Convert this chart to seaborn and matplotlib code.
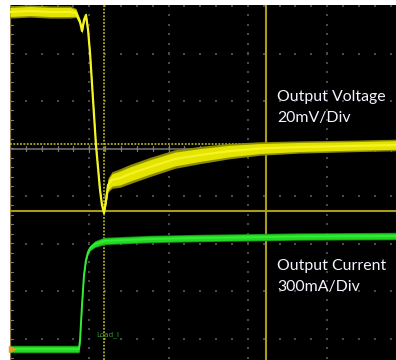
import numpy as np
import pandas as pd
import matplotlib
matplotlib.use("Agg")
import matplotlib.pyplot as plt
import seaborn as sns

# Screen coordinates are in scope divisions: x = time div from the left edge,
# y = vertical div from the centre graticule line.
volt_t = [0.000, 0.252, 0.504, 0.757, 0.832, 0.883, 0.908, 0.933, 0.958, 0.984,
          1.009, 1.047, 1.084, 1.135, 1.160, 1.185, 1.211, 1.236, 1.286, 1.387,
          1.513, 1.765, 2.081, 2.396, 2.774, 3.153, 3.657, 4.288, 4.868]
volt_y = [2.874, 2.895, 2.874, 2.874, 2.853, 2.663, 2.474, 2.705, 2.811, 2.495,
          2.011, 1.021, 0.074, -0.874, -1.189, -1.358, -1.084, -0.768, -0.663, -0.621,
          -0.537, -0.389, -0.221, -0.137, -0.053, 0.000, 0.032, 0.053, 0.074]
volt_spread = [0.095, 0.095, 0.095, 0.095, 0.070, 0.045, 0.040, 0.040, 0.040, 0.030,
               0.030, 0.030, 0.030, 0.030, 0.030, 0.040, 0.070, 0.110, 0.130, 0.145,
               0.150, 0.150, 0.145, 0.135, 0.120, 0.105, 0.095, 0.090, 0.090]

curr_t = [0.000, 0.870, 0.883, 0.908, 0.933, 0.958, 0.984, 1.009, 1.072, 1.185,
          1.765, 2.396, 3.657, 4.868]
curr_y = [-4.221, -4.221, -4.032, -3.295, -2.663, -2.347, -2.179, -2.095, -2.011, -1.947,
          -1.905, -1.884, -1.853, -1.842]
curr_spread = [0.060, 0.060, 0.030, 0.030, 0.030, 0.035, 0.040, 0.045, 0.055, 0.060,
               0.060, 0.060, 0.060, 0.060]

labels = {
    "volt": ("Output Voltage", "20mV/Div"),
    "curr": ("Output Current", "300mA/Div"),
}
channel_tag = "Load_I"

# cursor / trigger positions (divisions)
trig_x, trig_y = 1.185, 0.095
cursor_x, cursor_y = 3.222, -1.316

volt = pd.DataFrame({"t": volt_t, "y": volt_y, "s": volt_spread})
curr = pd.DataFrame({"t": curr_t, "y": curr_y, "s": curr_spread})

sns.set_style("dark", {"axes.facecolor": "black", "figure.facecolor": "white"})

fig = plt.figure(figsize=(3.96, 3.60), dpi=100)
ax = fig.add_axes([10 / 396, 0.0, 386 / 396, 355 / 360])
ax.set_facecolor("black")
XMAX = 386 / 79.3
YMIN, YMAX = -211.5 / 47.5, 143.5 / 47.5
ax.set_xlim(0, XMAX)
ax.set_ylim(YMIN, YMAX)

# graticule dots
dot_c = "#4a4a4a"
for gx in np.arange(0, 5):
    ys = np.arange(-4.4, 3.01, 0.2)
    ax.scatter(np.full_like(ys, gx), ys, s=1.0, color=dot_c, marker="s", linewidths=0, zorder=1)
for gy in np.arange(-4, 4):
    xs = np.arange(0, XMAX, 0.2)
    ax.scatter(xs, np.full_like(xs, gy), s=1.0, color=dot_c, marker="s", linewidths=0, zorder=1)

# centre horizontal axis with minor ticks
ax.axhline(0, color="#6e6e6e", lw=1.2, zorder=2)
for tx in np.arange(0.2, XMAX, 0.2):
    major = abs(tx - round(tx)) < 1e-6
    h = 0.07 if major else 0.045
    ax.plot([tx, tx], [-h, h], color="#7a7a7a", lw=0.9, zorder=2)

# left edge with ticks
ax.axvline(0.004, color="#8c7650", lw=1.6, zorder=3)
for ty in np.arange(-4.4, 3.01, 0.2):
    ax.plot([0, 0.04], [ty, ty], color="#7a7a7a", lw=0.8, zorder=2)

# trigger cursors (dotted) and measurement cursors (solid)
ax.axhline(trig_y, color="#d0c828", lw=1.1, ls=(0, (1.2, 1.0)), zorder=3)
ax.axvline(trig_x, color="#d0c828", lw=1.1, ls=(0, (1.2, 1.0)), zorder=3)
ax.axvline(cursor_x, color="#a89c18", lw=1.5, zorder=3)
ax.axhline(cursor_y, color="#a89c18", lw=1.5, zorder=3)

# voltage trace: dim persistence fringe, bright core band, centre line
ax.fill_between(volt["t"], volt["y"] - volt["s"] * 1.35, volt["y"] + volt["s"] * 1.35,
                color="#8c8c00", linewidth=0, zorder=4)
ax.fill_between(volt["t"], volt["y"] - volt["s"], volt["y"] + volt["s"],
                color="#e4e400", linewidth=0, zorder=4)
sns.lineplot(data=volt, x="t", y="y", ax=ax, color="#f4f424", lw=1.6,
             zorder=5, sort=False)

# current trace
ax.fill_between(curr["t"], curr["y"] - curr["s"] * 1.3, curr["y"] + curr["s"] * 1.3,
                color="#148c14", linewidth=0, zorder=4)
ax.fill_between(curr["t"], curr["y"] - curr["s"], curr["y"] + curr["s"],
                color="#22d822", linewidth=0, zorder=4)
sns.lineplot(data=curr, x="t", y="y", ax=ax, color="#34ec34", lw=1.4,
             zorder=5, sort=False)

# channel marker
ax.plot([0.02], [curr_y[0]], marker=">", ms=5, color="#e0a020", zorder=6, clip_on=False)

txt = dict(color="#f2f4ff", fontsize=11.4, family=["Lato", "DejaVu Sans"],
           ha="left", va="center", zorder=7)
ax.text(3.367, 1.084, labels["volt"][0], **txt)
ax.text(3.367, 0.642, labels["volt"][1], **txt)
ax.text(3.367, -2.474, labels["curr"][0], **txt)
ax.text(3.367, -2.916, labels["curr"][1], **txt)
ax.text(1.084, -3.926, channel_tag, color="#2ea02e", fontsize=5.2,
        family=["DejaVu Sans"], ha="left", va="center", zorder=7)

ax.set_xlabel("")
ax.set_ylabel("")
ax.set_xticks([])
ax.set_yticks([])
for sp in ax.spines.values():
    sp.set_visible(False)
ax.grid(False)

fig.savefig("out.png", dpi=100, facecolor="white")
